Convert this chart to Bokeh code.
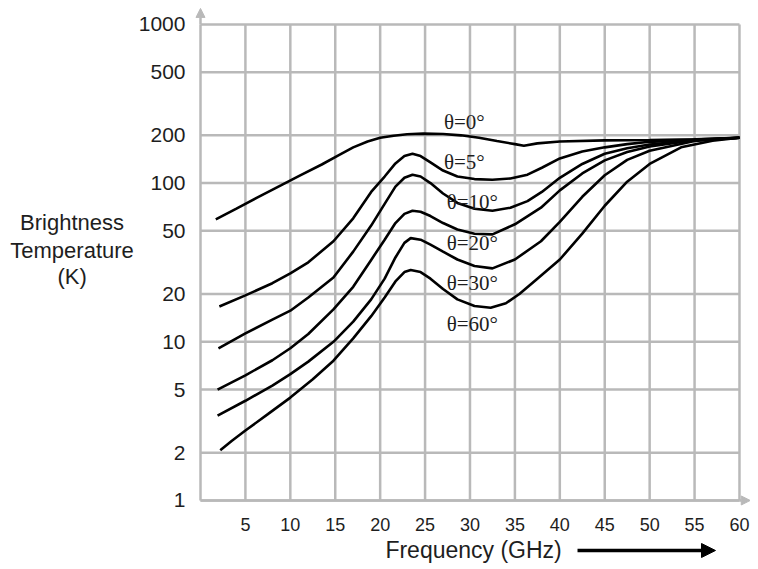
from bokeh.plotting import figure
from bokeh.models import Range1d, FixedTicker, Label, Arrow, NormalHead, PrintfTickFormatter
from bokeh.embed import file_html
from bokeh.resources import INLINE

# ---- data ----
x_ticks = [5, 10, 15, 20, 25, 30, 35, 40, 45, 50, 55, 60]
y_ticks = [1, 2, 5, 10, 20, 50, 100, 200, 500, 1000]

freq_0 = [1.7, 4, 6.3, 9, 11.1, 13.5, 15.3, 17, 18.6, 20, 21.5, 23, 24.8, 27, 29, 31, 33, 35, 36, 37.5, 40, 45, 50, 55, 60]
temp_0 = [59, 69, 81, 97, 112, 131, 149, 168, 183, 193, 199, 203, 205, 204, 200, 193, 184, 176, 172, 178, 183, 186, 187, 189, 193]

freq_5 = [2.1, 5, 8, 10, 12, 14.8, 17, 19, 20.5, 21.7, 22.7, 23.6, 24.5, 25.6, 27, 28.6, 30.5, 32.5, 34.5, 36.4, 38, 40, 42.5, 45, 47.5, 50, 55, 60]
temp_5 = [16.7, 19.6, 23.4, 27, 31.7, 43, 60, 88, 110, 133, 148, 153, 148, 135, 120, 110, 106, 105, 107, 113, 125, 143, 158, 168, 176, 182, 188, 193]

freq_10 = [2, 5, 8, 10, 12, 14.8, 17, 19, 20.5, 21.7, 22.7, 23.6, 24.5, 25.6, 27, 28.6, 30.5, 32.5, 34.5, 36.4, 38, 40, 42.5, 45, 47.5, 50, 55, 60]
temp_10 = [9.1, 11.3, 13.8, 15.7, 19, 25.4, 37, 54, 74, 95, 108, 113, 110, 100, 86, 75, 69, 67, 70, 77, 88, 108, 132, 153, 166, 175, 187, 193]

freq_20 = [1.9, 5, 8, 10, 12, 14.8, 17, 19, 20.5, 21.7, 22.7, 23.6, 24.5, 25.6, 27, 28.6, 30.5, 32.5, 35, 37.9, 40, 42.5, 45, 47.5, 50, 55, 60]
temp_20 = [5.0, 6.15, 7.65, 9.1, 11.2, 16.0, 22.2, 32.8, 44, 56, 64, 67, 66, 62, 56, 51, 48, 47.5, 55, 70, 90, 115, 139, 157, 170, 186, 193]

freq_30 = [1.9, 5, 8, 10, 12, 14.8, 17, 19, 20.5, 21.7, 22.7, 23.4, 24.5, 25.6, 27, 28.6, 30.5, 32.5, 35, 37.9, 40, 42.5, 45, 47.5, 50, 55, 60]
temp_30 = [3.43, 4.25, 5.3, 6.25, 7.5, 10.0, 13.4, 18.5, 25, 34, 42, 45, 44, 41, 37, 33, 30, 29, 33, 43, 57, 82, 112, 140, 160, 184, 193]

freq_60 = [2.2, 3.5, 5, 7.5, 10, 12.5, 14.8, 17, 19, 20.5, 21.7, 22.7, 23.4, 24.5, 25.6, 27, 28.6, 30.5, 32.3, 34, 35.5, 37.5, 40, 42.5, 45, 47.5, 50, 53.5, 57, 60]
temp_60 = [2.07, 2.38, 2.76, 3.5, 4.45, 5.8, 7.6, 10.5, 14.5, 19, 24, 27.5, 28.3, 27.5, 25, 21.5, 18.5, 16.8, 16.4, 17.5, 20, 25, 33, 48, 72, 102, 132, 168, 185, 193]

series_freq = [freq_0, freq_5, freq_10, freq_20, freq_30, freq_60]
series_temp = [temp_0, temp_5, temp_10, temp_20, temp_30, temp_60]

theta_labels = ["θ=0°", "θ=5°", "θ=10°", "θ=20°", "θ=30°", "θ=60°"]
theta_label_x = [27.1, 27.1, 27.4, 27.4, 27.4, 27.4]
theta_label_y = [241, 135, 75.5, 42.2, 23.6, 13.0]

ylabel_lines = ["Brightness", "Temperature", "(K)"]
ylabel_y = [56.5, 37.6, 25.8]
ylabel_x = -14.3

xlabel_text = "Frequency (GHz)"
xlabel_pos = (30.4, 0.484)
arrow_x = (41.97, 57.33)

GRID = "#b9b9b9"
TXT = "#1e1e1e"

# frame covers the whole canvas; axes are pinned at x=0 and y=1
p = figure(width=750, height=566,
           x_range=Range1d(-22.264, 61.227), y_range=Range1d(0.3837, 1414.7),
           y_axis_type="log", output_backend="svg", toolbar_location=None,
           min_border=0)
p.background_fill_color = "white"
p.border_fill_color = "white"
p.outline_line_color = None
p.xgrid.visible = False
p.ygrid.visible = False

# grid lines built from the tick lists
p.segment(x0=x_ticks, y0=[y_ticks[0]] * len(x_ticks), x1=x_ticks, y1=[y_ticks[-1]] * len(x_ticks),
          line_color=GRID, line_width=2.5)
p.segment(x0=[0] * len(y_ticks), y0=y_ticks, x1=[x_ticks[-1]] * len(y_ticks), y1=y_ticks,
          line_color=GRID, line_width=2.5)

p.xaxis.fixed_location = y_ticks[0]
p.yaxis.fixed_location = 0
p.xaxis.bounds = (0, x_ticks[-1])
p.yaxis.bounds = (y_ticks[0], y_ticks[-1])
p.xaxis.ticker = FixedTicker(ticks=x_ticks)
p.yaxis.ticker = FixedTicker(ticks=y_ticks)
p.yaxis.formatter = PrintfTickFormatter(format="%d")
for ax in (p.xaxis, p.yaxis):
    ax.axis_line_color = GRID
    ax.axis_line_width = 2.5
    ax.major_tick_line_color = None
    ax.minor_tick_line_color = None
    ax.major_label_text_font = "Liberation Sans"
    ax.major_label_text_color = TXT
p.xaxis.major_label_text_font_size = "18px"
p.yaxis.major_label_text_font_size = "21px"
p.xaxis.major_label_standoff = 12
p.yaxis.major_label_standoff = 9

for fx, ty in zip(series_freq, series_temp):
    p.line(fx, ty, line_color="black", line_width=2.6)

for t, lx, ly in zip(theta_labels, theta_label_x, theta_label_y):
    p.add_layout(Label(x=lx, y=ly, text=t, text_font="Liberation Serif",
                       text_font_size="21px", text_color=TXT,
                       text_align="left", text_baseline="middle"))

for t, ly in zip(ylabel_lines, ylabel_y):
    p.add_layout(Label(x=ylabel_x, y=ly, text=t, text_font="Liberation Sans",
                       text_font_size="22px", text_color=TXT,
                       text_align="center", text_baseline="middle"))

p.add_layout(Label(x=xlabel_pos[0], y=xlabel_pos[1], text=xlabel_text, text_font="Liberation Sans",
                   text_font_size="23px", text_color=TXT,
                   text_align="center", text_baseline="middle"))
p.add_layout(Arrow(x_start=arrow_x[0], y_start=xlabel_pos[1], x_end=arrow_x[1], y_end=xlabel_pos[1],
                   line_color="black", line_width=3.5,
                   end=NormalHead(size=14, fill_color="black", line_color="black")))

# axis arrowheads (grey)
p.add_layout(Arrow(x_start=0, y_start=y_ticks[-1], x_end=0, y_end=1261,
                   line_color=GRID, line_width=2.5,
                   end=NormalHead(size=9, fill_color=GRID, line_color=GRID)))
p.add_layout(Arrow(x_start=x_ticks[-1], y_start=y_ticks[0], x_end=61.2, y_end=y_ticks[0],
                   line_color=GRID, line_width=2.5,
                   end=NormalHead(size=9, fill_color=GRID, line_color=GRID)))

open("out.html", "w").write(file_html(p, INLINE))
